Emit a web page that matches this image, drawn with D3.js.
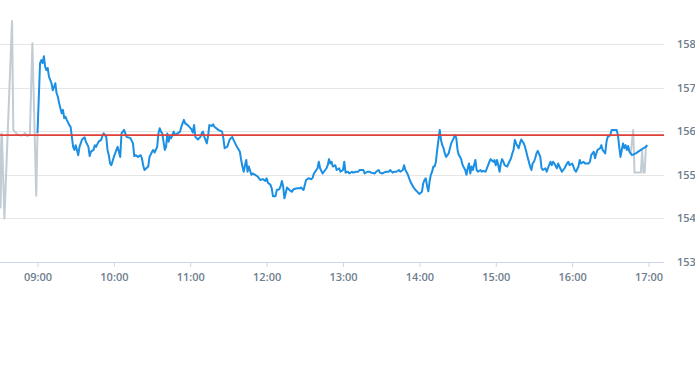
<!DOCTYPE html>
<html>
<head>
<meta charset="utf-8">
<script src="https://cdn.jsdelivr.net/npm/d3@7"></script>
<style>
  html, body { margin: 0; padding: 0; background: #fff; }
  svg { display: block; }
  .lbl text { font-family: "Open Sans", sans-serif; font-size: 11px; font-weight: 600; fill: #6e7e8e; }
</style>
</head>
<body>
<svg id="chart" width="695" height="370"></svg>
<script>
// ---------- data ----------
const prevClose = 155.91;
const yTicks = [153, 154, 155, 156, 157, 158];
const xTickLabels = ["09:00", "10:00", "11:00", "12:00", "13:00", "14:00", "15:00", "16:00", "17:00"];

const premarket = [
  ["08:30",155.97],["08:31",154.25],["08:32",155.95],["08:34",154.00],["08:40",158.53],["08:41",156.03],
  ["08:44",155.93],["08:47",155.90],["08:49",155.91],["08:50",155.96],["08:52",155.89],["08:54",155.92],
  ["08:56",158.02],["08:59",154.52],["09:00",155.96]
];

const session = [
  ["09:00",155.96],["09:02",157.56],["09:03",157.63],["09:04",157.56],["09:05",157.72],["09:06",157.48],["09:07",157.40],["09:08",157.45],["09:09",157.25],
  ["09:11",157.10],["09:12",156.94],["09:13",157.01],["09:14",157.10],["09:15",156.87],["09:16",156.79],["09:17",156.64],["09:19",156.41],["09:20",156.49],
  ["09:21",156.30],["09:22",156.33],["09:23",156.26],["09:25",156.14],["09:26",156.10],["09:28",155.64],["09:29",155.57],["09:30",155.68],["09:31",155.57],
  ["09:32",155.45],["09:33",155.64],["09:35",155.81],["09:37",155.86],["09:38",155.76],["09:40",155.64],["09:41",155.43],["09:42",155.53],["09:44",155.57],
  ["09:45",155.68],["09:46",155.64],["09:48",155.76],["09:50",155.80],["09:51",155.89],["09:52",155.95],["09:54",155.87],["09:55",155.57],["09:56",155.45],
  ["09:57",155.26],["09:58",155.22],["10:00",155.41],["10:01",155.49],["10:02",155.57],["10:03",155.64],["10:05",155.41],["10:06",155.95],["10:08",156.03],
  ["10:10",155.87],["10:13",155.84],["10:15",155.72],["10:16",155.43],["10:17",155.45],["10:19",155.41],["10:21",155.45],["10:22",155.38],["10:23",155.22],
  ["10:24",155.11],["10:27",155.19],["10:28",155.41],["10:30",155.53],["10:31",155.57],["10:32",155.51],["10:34",155.64],["10:35",155.95],["10:36",156.07],
  ["10:37",155.99],["10:38",155.95],["10:40",155.57],["10:41",155.64],["10:42",155.95],["10:43",155.76],["10:44",155.87],["10:45",155.84],["10:47",155.99],
  ["10:48",155.91],["10:50",155.95],["10:52",155.99],["10:53",156.10],["10:55",156.26],["10:56",156.18],["10:58",156.14],["11:01",156.04],["11:02",155.97],
  ["11:03",156.14],["11:04",155.87],["11:06",155.81],["11:08",155.87],["11:09",155.95],["11:10",155.99],["11:11",155.87],["11:12",155.80],["11:13",155.72],
  ["11:14",155.89],["11:15",156.14],["11:17",156.12],["11:18",156.16],["11:19",156.10],["11:22",156.03],["11:25",155.99],["11:26",155.84],["11:27",155.61],
  ["11:29",155.64],["11:31",155.81],["11:33",155.87],["11:34",155.80],["11:36",155.68],["11:39",155.53],["11:40",155.34],["11:41",155.19],["11:42",155.07],
  ["11:43",155.22],["11:44",155.34],["11:45",155.07],["11:46",155.19],["11:48",155.00],["11:49",155.03],["11:51",155.00],["11:53",154.96],["11:55",154.88],
  ["11:57",154.90],["11:59",154.86],["12:00",154.92],["12:01",154.82],["12:03",154.77],["12:04",154.69],["12:05",154.51],["12:07",154.51],["12:08",154.65],
  ["12:10",154.67],["12:11",154.74],["12:12",154.86],["12:13",154.73],["12:14",154.46],["12:15",154.58],["12:16",154.71],["12:18",154.65],["12:20",154.61],
  ["12:21",154.67],["12:24",154.69],["12:26",154.69],["12:27",154.71],["12:29",154.65],["12:31",154.88],["12:33",154.92],["12:35",154.90],["12:36",154.92],
  ["12:37",155.02],["12:39",155.11],["12:40",155.15],["12:41",155.30],["12:42",155.15],["12:44",155.03],["12:45",155.07],["12:47",155.15],["12:48",155.22],
  ["12:49",155.36],["12:50",155.26],["12:51",155.30],["12:52",155.19],["12:54",155.22],["12:55",155.11],["12:57",155.15],["12:58",155.07],["13:00",155.11],
  ["13:01",155.30],["13:02",155.05],["13:04",155.07],["13:05",155.03],["13:07",155.07],["13:08",155.05],["13:10",155.07],["13:12",155.07],["13:13",155.11],
  ["13:16",155.11],["13:17",155.03],["13:19",155.07],["13:21",155.07],["13:22",155.05],["13:25",155.03],["13:26",155.07],["13:28",155.11],["13:29",155.05],
  ["13:31",155.03],["13:32",155.05],["13:34",155.07],["13:36",155.07],["13:37",155.11],["13:39",155.05],["13:40",155.07],["13:42",155.07],["13:44",155.11],
  ["13:45",155.07],["13:47",155.11],["13:48",155.22],["13:49",155.11],["13:51",155.00],["13:52",154.92],["13:53",154.84],["13:55",154.73],["13:57",154.65],
  ["13:59",154.59],["14:00",154.56],["14:02",154.61],["14:03",154.80],["14:04",154.88],["14:05",154.92],["14:06",154.75],["14:07",154.62],["14:08",154.84],
  ["14:09",155.00],["14:10",155.07],["14:11",155.19],["14:12",155.19],["14:13",155.30],["14:14",155.57],["14:15",155.80],["14:16",156.03],["14:17",155.80],
  ["14:18",155.68],["14:19",155.61],["14:20",155.49],["14:21",155.41],["14:23",155.49],["14:24",155.61],["14:25",155.72],["14:27",155.84],["14:28",155.91],
  ["14:29",155.84],["14:30",155.57],["14:31",155.45],["14:32",155.41],["14:33",155.34],["14:34",155.22],["14:36",155.11],["14:37",155.00],["14:38",155.15],
  ["14:39",155.26],["14:40",155.03],["14:41",155.19],["14:42",155.11],["14:44",155.34],["14:45",155.11],["14:46",155.07],["14:48",155.11],["14:49",155.07],
  ["14:50",155.09],["14:52",155.07],["14:54",155.22],["14:55",155.30],["14:56",155.36],["14:58",155.30],["14:59",155.34],["15:00",155.22],["15:01",155.34],
  ["15:02",155.22],["15:03",155.07],["15:04",155.26],["15:05",155.36],["15:06",155.30],["15:07",155.22],["15:09",155.19],["15:10",155.26],["15:12",155.38],
  ["15:13",155.49],["15:14",155.57],["15:15",155.80],["15:16",155.72],["15:18",155.61],["15:19",155.72],["15:20",155.81],["15:22",155.72],["15:23",155.64],
  ["15:24",155.53],["15:25",155.41],["15:27",155.19],["15:28",155.11],["15:29",155.26],["15:30",155.30],["15:31",155.38],["15:32",155.49],["15:33",155.55],
  ["15:35",155.41],["15:36",155.15],["15:37",155.11],["15:39",155.15],["15:40",155.07],["15:41",155.15],["15:43",155.30],["15:44",155.22],["15:45",155.30],
  ["15:46",155.26],["15:48",155.15],["15:49",155.26],["15:50",155.19],["15:52",155.07],["15:53",155.11],["15:54",155.15],["15:56",155.26],["15:57",155.30],
  ["15:58",155.22],["16:00",155.26],["16:01",155.19],["16:02",155.11],["16:03",155.07],["16:05",155.19],["16:06",155.34],["16:07",155.26],["16:09",155.30],
  ["16:10",155.26],["16:13",155.26],["16:14",155.30],["16:15",155.45],["16:17",155.53],["16:18",155.38],["16:19",155.49],["16:20",155.57],["16:22",155.61],
  ["16:23",155.68],["16:24",155.57],["16:26",155.49],["16:27",155.76],["16:28",155.87],["16:30",155.91],["16:31",156.03],["16:35",156.03],["16:36",155.91],
  ["16:37",155.64],["16:38",155.41],["16:39",155.57],["16:40",155.72],["16:41",155.61],["16:42",155.68],["16:43",155.57],["16:44",155.66],["16:45",155.53],
  ["16:47",155.45],["16:50",155.49],["16:54",155.57],["16:56",155.61],["16:58",155.64],["16:59",155.68]
];

const afterHours = [
  ["16:45",155.53],["16:46",155.50],["16:48",156.03],["16:49",155.05],["16:54",155.05],["16:55",155.55],
  ["16:56",155.05],["16:57",155.05],["16:58",155.66],["16:59",155.68]
];

// ---------- chart ----------
const plotRight = 664, plotBottom = 262;
const parse = d3.timeParse("%H:%M");
const svg = d3.select("#chart");

const x = d3.scaleTime()
  .domain([parse("09:00"), parse("17:00")])
  .range([37.5, 648.5]);
const y = d3.scaleLinear()
  .domain([153, 158])
  .range([plotBottom, 44]);

svg.append("defs").append("clipPath").attr("id", "clip")
  .append("rect").attr("x", 0).attr("y", 0).attr("width", plotRight).attr("height", plotBottom);

// gridlines
const grid = svg.append("g").attr("transform", `translate(${plotRight},0)`)
  .call(d3.axisLeft(y).tickValues(yTicks).tickSize(plotRight).tickFormat(""));
grid.select(".domain").remove();
grid.selectAll(".tick line").attr("stroke", "#e6e6e6").attr("stroke-width", 1)
  .attr("shape-rendering", "crispEdges");
grid.selectAll(".tick").filter(d => d === 153).select("line").attr("stroke", "#ccd6eb");

// y labels
const yAx = svg.append("g").attr("class", "lbl").attr("transform", `translate(${plotRight},0)`)
  .call(d3.axisRight(y).tickValues(yTicks).tickSize(0).tickPadding(13).tickFormat(d3.format("d")));
yAx.select(".domain").remove();

// x axis
const xAx = svg.append("g").attr("class", "lbl").attr("transform", `translate(0,${plotBottom})`)
  .call(d3.axisBottom(x).tickValues(xTickLabels.map(parse)).tickSize(5).tickPadding(6)
    .tickFormat(d3.timeFormat("%H:%M")));
xAx.select(".domain").remove();
xAx.selectAll(".tick line").attr("stroke", "#ccd6eb");

// lines
const line = d3.line().x(d => x(parse(d[0]))).y(d => y(d[1]));
const g = svg.append("g").attr("clip-path", "url(#clip)");

g.append("path").datum(premarket).attr("d", line)
  .attr("fill", "none").attr("stroke", "#c2ccd4").attr("stroke-width", 2).attr("stroke-linejoin", "round");
g.append("path").datum(afterHours).attr("d", line)
  .attr("fill", "none").attr("stroke", "#c2ccd4").attr("stroke-width", 2).attr("stroke-linejoin", "round");

// previous close
svg.append("line")
  .attr("x1", 0).attr("x2", plotRight)
  .attr("y1", y(prevClose)).attr("y2", y(prevClose))
  .attr("stroke", "#e0403a").attr("stroke-width", 1.6);

g.append("path").datum(session).attr("d", line)
  .attr("fill", "none").attr("stroke", "#1a8fe3").attr("stroke-width", 2).attr("stroke-linejoin", "round");
</script>
</body>
</html>
